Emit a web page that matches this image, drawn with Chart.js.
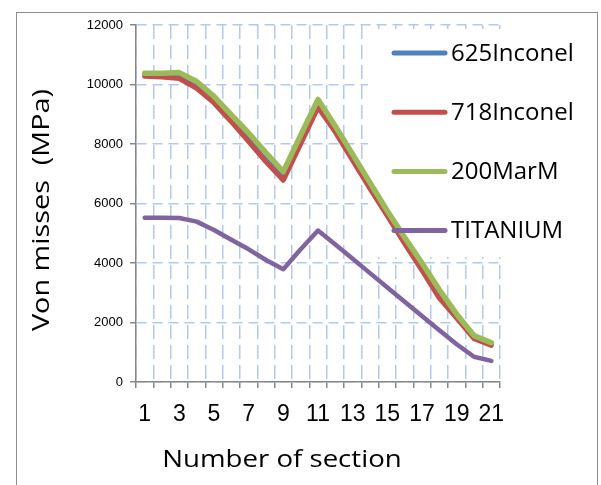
<!DOCTYPE html>
<html>
<head>
<meta charset="utf-8">
<script src="https://cdn.jsdelivr.net/npm/chart.js@4.4.1/dist/chart.umd.min.js"></script>
<style>
  html, body { margin: 0; padding: 0; background: #fff; }
  canvas { display: block; }
</style>
</head>
<body>
<canvas id="chart" width="601" height="485"></canvas>
<script>
// section numbers along the blade
const sections = ['1','2','3','4','5','6','7','8','9','10','11','12','13','14','15','16','17','18','19','20','21'];

// von Mises stress (MPa) per material
const inconel625 = [10330, 10320, 10300, 9980, 9480, 8860, 8220, 7550, 6900, 8150, 9360, 8500, 7550, 6600, 5660, 4750, 3880, 2960, 2220, 1510, 1270];
const inconel718 = [10280, 10250, 10200, 9870, 9380, 8750, 8080, 7400, 6780, 8000, 9230, 8400, 7450, 6500, 5580, 4650, 3750, 2820, 2150, 1460, 1230];
const marM200 = [10380, 10380, 10400, 10100, 9600, 8980, 8370, 7700, 7070, 8300, 9500, 8600, 7650, 6700, 5750, 4860, 4000, 3100, 2280, 1560, 1320];
const titanium = [5520, 5520, 5510, 5390, 5110, 4780, 4460, 4100, 3790, 4460, 5090, 4620, 4140, 3660, 3180, 2700, 2220, 1740, 1270, 850, 710];

const gridBlue = '#b3c9ec';
const axisGray = '#878787';

// white legend panel goes under the lines, labels go on top
const legendBox = {
  id: 'legendBox',
  beforeDraw(chart) {
    const ctx = chart.ctx;
    ctx.save();
    ctx.strokeStyle = '#8c8c8c';
    ctx.lineWidth = 1;
    ctx.strokeRect(16.5, 12.5, 581, 500);
    ctx.restore();
  },
  beforeDatasetsDraw(chart) {
    const ctx = chart.ctx;
    ctx.save();
    ctx.fillStyle = '#fff';
    ctx.fillRect(368, 29, 134, 228);
    ctx.restore();
  },
  afterDatasetsDraw(chart) {
    const ctx = chart.ctx;
    ctx.save();
    chart.data.datasets.forEach((ds, i) => {
      const y = 53 + i * 59.2;
      ctx.strokeStyle = ds.borderColor;
      ctx.lineWidth = 5;
      ctx.lineCap = 'round';
      ctx.beginPath();
      ctx.moveTo(394, y);
      ctx.lineTo(445, y);
      ctx.stroke();
      ctx.fillStyle = '#000';
      ctx.font = '24px "Open Sans"';
      ctx.textBaseline = 'middle';
      ctx.fillText(ds.label, 451, y + 1);
    });
    ctx.restore();
  },
  afterDraw(chart) {
    const ctx = chart.ctx;
    ctx.save();
    ctx.fillStyle = '#000';
    ctx.font = '24px "Open Sans"';
    ctx.textAlign = 'center';
    ctx.textBaseline = 'middle';
    // x title
    ctx.save();
    ctx.translate(282, 460);
    ctx.scale(1.15, 1);
    ctx.fillText('Number of section', 0, 0);
    ctx.restore();
    // y title
    ctx.save();
    ctx.translate(42, 210);
    ctx.rotate(-Math.PI / 2);
    ctx.scale(1.2, 1);
    ctx.fillText('Von misses  (MPa)', 0, 0);
    ctx.restore();
    ctx.restore();
  }
};

const line = (label, data, color, order, width) => ({
  label, data,
  borderColor: color,
  backgroundColor: color,
  borderWidth: width,
  pointRadius: 0,
  tension: 0,
  borderJoinStyle: 'round',
  borderCapStyle: 'round',
  order
});

new Chart(document.getElementById('chart'), {
  type: 'line',
  data: {
    labels: sections,
    datasets: [
      line('625Inconel', inconel625, '#4f81bd', 3, 4.5),
      line('718Inconel', inconel718, '#c0504d', 2, 5),
      line('200MarM', marM200, '#9bbb59', 1, 5.5),
      line('TITANIUM', titanium, '#8064a2', 0, 4.5)
    ]
  },
  options: {
    responsive: false,
    animation: false,
    devicePixelRatio: 1,
    layout: { padding: { left: 0, right: 101, top: 25, bottom: 0 } },
    plugins: {
      legend: { display: false },
      tooltip: { enabled: false }
    },
    scales: {
      x: {
        offset: true,
        grid: {
          offset: true,
          color: gridBlue,
          tickColor: axisGray,
          tickLength: 6,
          lineWidth: 1.5
        },
        border: { color: axisGray, width: 1.5, dash: [14, 6] },
        ticks: {
          autoSkip: false,
          maxRotation: 0,
          padding: 13,
          color: '#000',
          font: { family: '"Liberation Sans", Arial', size: 23 },
          callback(val, idx) { return idx % 2 === 0 ? this.getLabelForValue(val) : ''; }
        },
        afterFit(scale) { scale.height = 103; }
      },
      y: {
        min: 0,
        max: 12000,
        grid: {
          color: gridBlue,
          tickColor: axisGray,
          tickLength: 6,
          lineWidth: 1.5
        },
        border: { color: axisGray, width: 1.5, dash: [10, 6] },
        ticks: {
          stepSize: 2000,
          padding: 7,
          color: '#000',
          font: { family: '"Liberation Sans", Arial', size: 13 },
          callback: (val) => String(val)
        },
        afterFit(scale) { scale.width = 136; }
      }
    }
  },
  plugins: [legendBox]
});
</script>
</body>
</html>
